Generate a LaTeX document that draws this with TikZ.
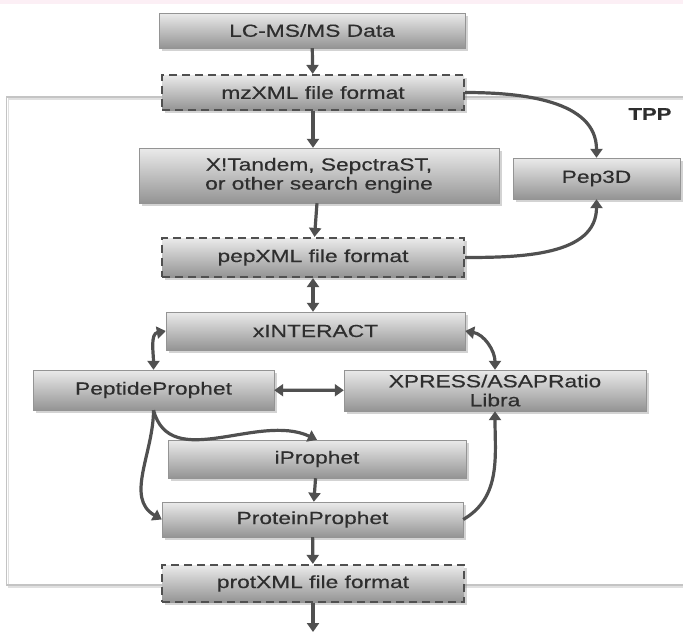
\documentclass[tikz,border=0pt]{standalone}
\usepackage{fontspec}
\setmainfont[FakeStretch=1.3,FakeBold=0.4]{Liberation Sans}
\usetikzlibrary{arrows.meta,shadows}

\definecolor{linegray}{HTML}{505050}
\definecolor{framegray}{HTML}{C4C4C4}
\definecolor{textgray}{HTML}{2E2E2E}
\definecolor{bandpink}{HTML}{FCEFF5}

\tikzset{
  box/.style={draw=black!42, top color=black!8, bottom color=black!42, text=textgray,
    inner sep=0pt, align=center, font=\fontsize{17.5}{19}\selectfont,
    drop shadow={shadow xshift=2.5pt, shadow yshift=-3pt, opacity=0.35}},
  filebox/.style={box, draw=linegray, line width=2.2pt, dash pattern=on 8pt off 5pt},
  flow/.style={draw=linegray, line width=3.2pt},
}

\begin{document}
\begin{tikzpicture}[x=1pt,y=1pt,>={Triangle[length=9pt,width=12pt]}]
\useasboundingbox (0,0) rectangle (683,-635);
\fill[bandpink] (0,0) rectangle (683,-4);

% TPP frame
\draw[black!12,line width=1.8pt] (683,-99) -- (8.5,-99) -- (8.5,-587) -- (683,-587);
\draw[framegray,line width=1.8pt] (683,-97) -- (6.5,-97) -- (6.5,-585) -- (683,-585);
\node[text=textgray,font=\bfseries\fontsize{17}{19}\selectfont] (tpp) at (650,-114) {TPP};

\node[box,minimum width=306pt,minimum height=35pt] (lcms) at (312,-30.5) {LC-MS/MS Data};
\node[filebox,minimum width=302pt,minimum height=35pt] (mzxml) at (313,-92.5) {mzXML file format};
\node[box,minimum width=360pt,minimum height=55pt] (search) at (319,-175.5) {X!Tandem, SepctraST,\\or other search engine};
\node[box,minimum width=167pt,minimum height=41pt] (pep3d) at (596.5,-178.5) {Pep3D};
\node[filebox,minimum width=302pt,minimum height=39pt] (pepxml) at (313,-257.5) {pepXML file format};

\node[box,minimum width=299pt,minimum height=38pt] (xinteract) at (315.5,-331) {xINTERACT};
\node[box,minimum width=241pt,minimum height=40pt] (pepproph) at (153.5,-390) {PeptideProphet};
\node[box,minimum width=302pt,minimum height=41pt] (xpress) at (495,-390.5) {XPRESS/ASAPRatio\\Libra};
\node[box,minimum width=298pt,minimum height=38pt] (iproph) at (317,-459) {iProphet};
\node[box,minimum width=301pt,minimum height=35pt] (protproph) at (312.5,-519.5) {ProteinProphet};
\node[filebox,minimum width=302pt,minimum height=37pt] (protxml) at (313,-583.5) {protXML file format};
\coordinate (out) at (313,-632);

\draw[flow,->] (lcms) -- (mzxml);
\draw[flow,->] (mzxml) -- (mzxml|-search.north);
\draw[flow,->] (search) -- (pepxml);
\draw[flow,<->] (pepxml) -- (pepxml|-xinteract.north);
\draw[flow,->] (mzxml.east) to[out=0,in=90] (pep3d.north);
\draw[flow,->] (pepxml.east) to[out=0,in=-90] (pep3d.south);

\draw[flow,<->] (xinteract.west) to[out=190,in=90] (pepproph.north);
\draw[flow,<->] (xinteract.east) to[out=-10,in=90] (xpress.north);
\draw[flow,<->] (pepproph) -- (xpress);
\draw[flow,->] (pepproph.south) to[out=-75,in=155] (iproph.north);
\draw[flow,->] (pepproph.south) to[out=-90,in=150] (protproph.west);
\draw[flow,->] (iproph) -- (protproph);
\draw[flow,->] (protproph.east) to[out=30,in=-90] (xpress.south);
\draw[flow,->] (protproph) -- (protxml);
\draw[flow,->] (protxml) -- (out);

\end{tikzpicture}
\end{document}
